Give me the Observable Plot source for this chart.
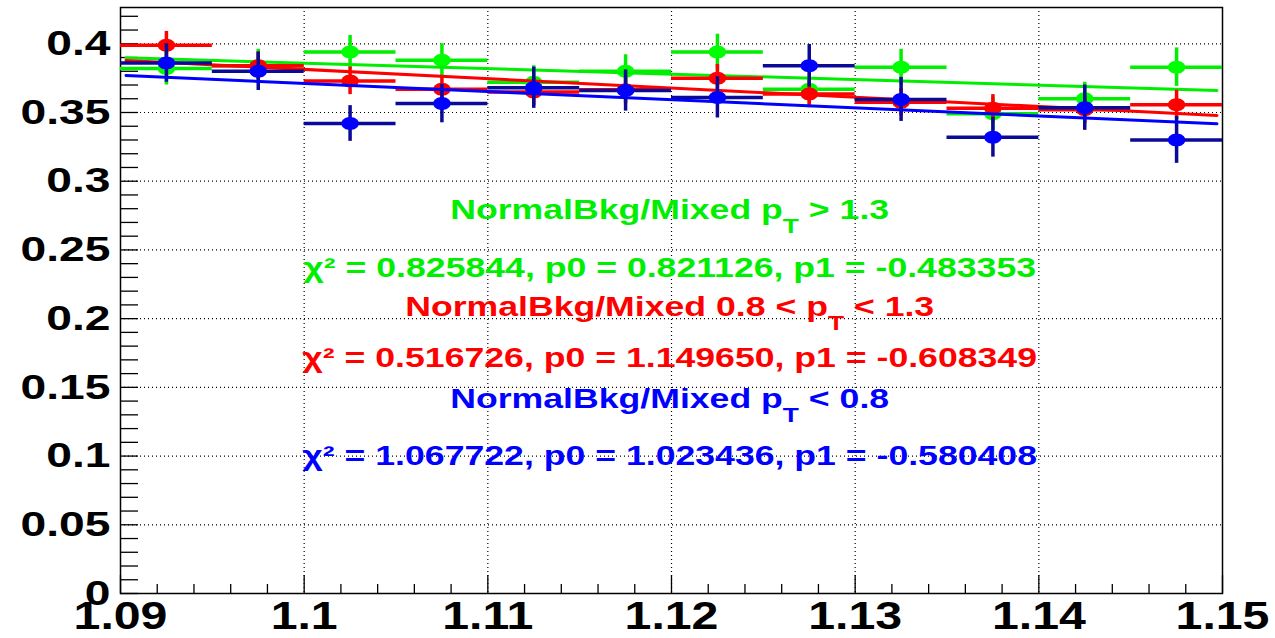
<!DOCTYPE html>
<html><head><meta charset="utf-8">
<script src="https://cdn.jsdelivr.net/npm/d3@7"></script>
<script src="https://cdn.jsdelivr.net/npm/@observablehq/plot@0.6"></script>
<style>html,body{margin:0;padding:0;background:#fff;} #chart svg{display:block;}</style>
</head><body><div id="chart"></div>
<script>
// ---- data ----
const binCenters = [1.0925, 1.0975, 1.1025, 1.1075, 1.1125, 1.1175, 1.1225, 1.1275, 1.1325, 1.1375, 1.1425, 1.1475];
const binHalfWidth = 0.0025;

const greenVals = [0.382, 0.384, 0.394, 0.388, 0.372, 0.380, 0.394, 0.367, 0.383, 0.349, 0.360, 0.383];
const greenErrs = [0.012, 0.012, 0.012, 0.012, 0.012, 0.012, 0.013, 0.012, 0.013, 0.012, 0.012, 0.014];
const redVals   = [0.399, 0.384, 0.373, 0.367, 0.365, 0.3665, 0.375, 0.3635, 0.3575, 0.353, 0.352, 0.3557];
const redErrs   = [0.010, 0.010, 0.010, 0.010, 0.010, 0.010, 0.010, 0.010, 0.010, 0.010, 0.010, 0.0105];
const blueVals  = [0.386, 0.380, 0.342, 0.3565, 0.368, 0.366, 0.361, 0.384, 0.3595, 0.332, 0.3535, 0.330];
const blueErrs  = [0.014, 0.014, 0.013, 0.014, 0.015, 0.015, 0.015, 0.0155, 0.016, 0.0145, 0.0165, 0.017];

const fitX     = [1.0903, 1.1497];
const greenFit = [0.3898, 0.3660];
const redFit   = [0.3879, 0.3478];
const blueFit  = [0.3769, 0.3418];

const annX = 1.1199;
const annTexts = [
  "NormalBkg/Mixed p_{T} > 1.3",
  "χ² = 0.825844, p0 = 0.821126, p1 = -0.483353",
  "NormalBkg/Mixed 0.8 < p_{T} < 1.3",
  "χ² = 0.516726, p0 = 1.149650, p1 = -0.608349",
  "NormalBkg/Mixed p_{T} < 0.8",
  "χ² = 1.067722, p0 = 1.023436, p1 = -0.580408"
];
const annY = [0.2724, 0.2302, 0.2018, 0.1647, 0.1349, 0.0934];
const annSeries = ["green", "green", "red", "red", "blue", "blue"];

const xMajorTicks = [1.09, 1.10, 1.11, 1.12, 1.13, 1.14, 1.15];
const xTickLabels = ["1.09", "1.1", "1.11", "1.12", "1.13", "1.14", "1.15"];
const yMajorTicks = [0, 0.05, 0.1, 0.15, 0.2, 0.25, 0.3, 0.35, 0.4];
const yTickLabels = ["0", "0.05", "0.1", "0.15", "0.2", "0.25", "0.3", "0.35", "0.4"];

// ---- styling ----
const colors = {
  green: {marker: "#00ff00", bar: "#00ee00", fit: "#00ee00", text: "#00ee00"},
  red:   {marker: "#ff0000", bar: "#ff0000", fit: "#ff0000", text: "#ff0000"},
  blue:  {marker: "#0000ff", bar: "#0a0a96", fit: "#0000ff", text: "#0000ff"}
};

const W = 1275, H = 638, mL = 120, mR = 53, mT = 7, mB = 45;
const innerW = W - mL - mR, innerH = H - mT - mB;
const xDomain = [1.09, 1.15], yDomain = [0, 0.4264];

const xMinor = d3.range(0, 31).map(i => +(1.09 + i * 0.002).toFixed(3)).filter(v => !xMajorTicks.some(m => Math.abs(m - v) < 1e-9));
const yMinor = d3.range(0, 43).map(i => +(i * 0.01).toFixed(2));
const xGrid = xMajorTicks.slice(1, -1);
const yGrid = yMajorTicks.slice(1);

const seriesDefs = [
  {name: "green", vals: greenVals, errs: greenErrs, fit: greenFit},
  {name: "red", vals: redVals, errs: redErrs, fit: redFit},
  {name: "blue", vals: blueVals, errs: blueErrs, fit: blueFit}
];

const ellipse = {
  draw(ctx, size) {
    const ry = Math.sqrt(size / Math.PI), rx = ry * 1.35, k = 0.5523;
    ctx.moveTo(rx, 0);
    ctx.bezierCurveTo(rx, k * ry, k * rx, ry, 0, ry);
    ctx.bezierCurveTo(-k * rx, ry, -rx, k * ry, -rx, 0);
    ctx.bezierCurveTo(-rx, -k * ry, -k * rx, -ry, 0, -ry);
    ctx.bezierCurveTo(k * rx, -ry, rx, -k * ry, rx, 0);
    ctx.closePath();
  }
};

const dataMarks = [];
for (const s of seriesDefs) {
  const c = colors[s.name];
  const rows = binCenters.map((x, i) => ({x, y: s.vals[i], e: s.errs[i]}));
  const fitRows = fitX.map((x, i) => ({x, y: s.fit[i]}));
  dataMarks.push(
    Plot.ruleY(rows, {y: "y", x1: d => d.x - binHalfWidth, x2: d => d.x + binHalfWidth, stroke: c.bar, strokeWidth: 3.5}),
    Plot.ruleX(rows, {x: "x", y1: d => d.y - d.e, y2: d => d.y + d.e, stroke: c.bar, strokeWidth: 3.5}),
    Plot.dot(rows, {x: "x", y: "y", r: 6.5, symbol: ellipse, fill: c.marker, stroke: "none"}),
    Plot.line(fitRows, {x: "x", y: "y", stroke: c.fit, strokeWidth: 3})
  );
}

const annRows = annTexts.map((t, i) => ({t, y: annY[i], s: annSeries[i]}));

const chart = Plot.plot({
  width: W, height: H,
  marginLeft: mL, marginRight: mR, marginTop: mT, marginBottom: mB,
  style: "font-family: 'Liberation Sans', Arial, Helvetica, sans-serif; font-weight: bold; background: #fff; overflow: visible;",
  x: {domain: xDomain},
  y: {domain: yDomain},
  marks: [
    Plot.ruleX(xGrid, {x: d => d, stroke: "black", strokeWidth: 1.2, strokeDasharray: "1,3"}),
    Plot.ruleY(yGrid, {y: d => d, stroke: "black", strokeWidth: 1.2, strokeDasharray: "1,3"}),
    Plot.frame({stroke: "black", strokeWidth: 1.5}),
    Plot.tickY(yMinor, {y: d => d, stroke: "black", strokeWidth: 1.3, insetRight: innerW - 18}),
    Plot.tickX(xMajorTicks, {x: d => d, stroke: "black", strokeWidth: 1.3, insetTop: innerH - 18}),
    Plot.tickX(xMinor, {x: d => d, stroke: "black", strokeWidth: 1.3, insetTop: innerH - 9}),
    Plot.axisY(yMajorTicks, {tickSize: 0, tickPadding: 10, fontSize: 35, fontWeight: "bold", fill: "black",
      tickFormat: d => yTickLabels[yMajorTicks.indexOf(d)], label: null}),
    Plot.axisX(xMajorTicks, {tickSize: 0, tickPadding: 9, fontSize: 38, fontWeight: "bold", fill: "black",
      tickFormat: d => xTickLabels[xMajorTicks.indexOf(d)], label: null}),
    ...dataMarks,
    Plot.text(annRows, {x: () => annX, y: "y", text: "t", fill: d => colors[d.s].text,
      fontSize: 27, fontWeight: "bold", textAnchor: "middle", lineAnchor: "bottom"})
  ]
});

document.getElementById("chart").appendChild(chart);

// ---- post-processing: subscripts and ROOT-like wide glyphs ----
const svg = chart.tagName.toLowerCase() === "svg" ? chart : chart.querySelector("svg");
const annNodes = Array.from(svg.querySelectorAll('g[aria-label="text"] text'));
annNodes.forEach(t => {
  const parts = t.textContent.split(/_\{(.*?)\}/);
  if (parts.length > 1) {
    while (t.firstChild) t.removeChild(t.firstChild);
    parts.forEach((p, i) => {
      const ts = document.createElementNS("http://www.w3.org/2000/svg", "tspan");
      ts.textContent = p;
      if (i % 2 === 1) { ts.setAttribute("font-size", "20"); ts.setAttribute("dy", "14"); }
      else if (i > 0) { ts.setAttribute("dy", "-14"); }
      t.appendChild(ts);
    });
  }
  t.setAttribute("transform", (t.getAttribute("transform") || "") + " scale(1.32,1)");
});
function stretch(sel, sx) {
  svg.querySelectorAll(sel).forEach(t => {
    t.setAttribute("transform", (t.getAttribute("transform") || "") + ` scale(${sx},1)`);
  });
}
stretch('g[aria-label="y-axis tick label"] text', 1.32);
stretch('g[aria-label="x-axis tick label"] text', 1.27);
</script>
</body></html>
